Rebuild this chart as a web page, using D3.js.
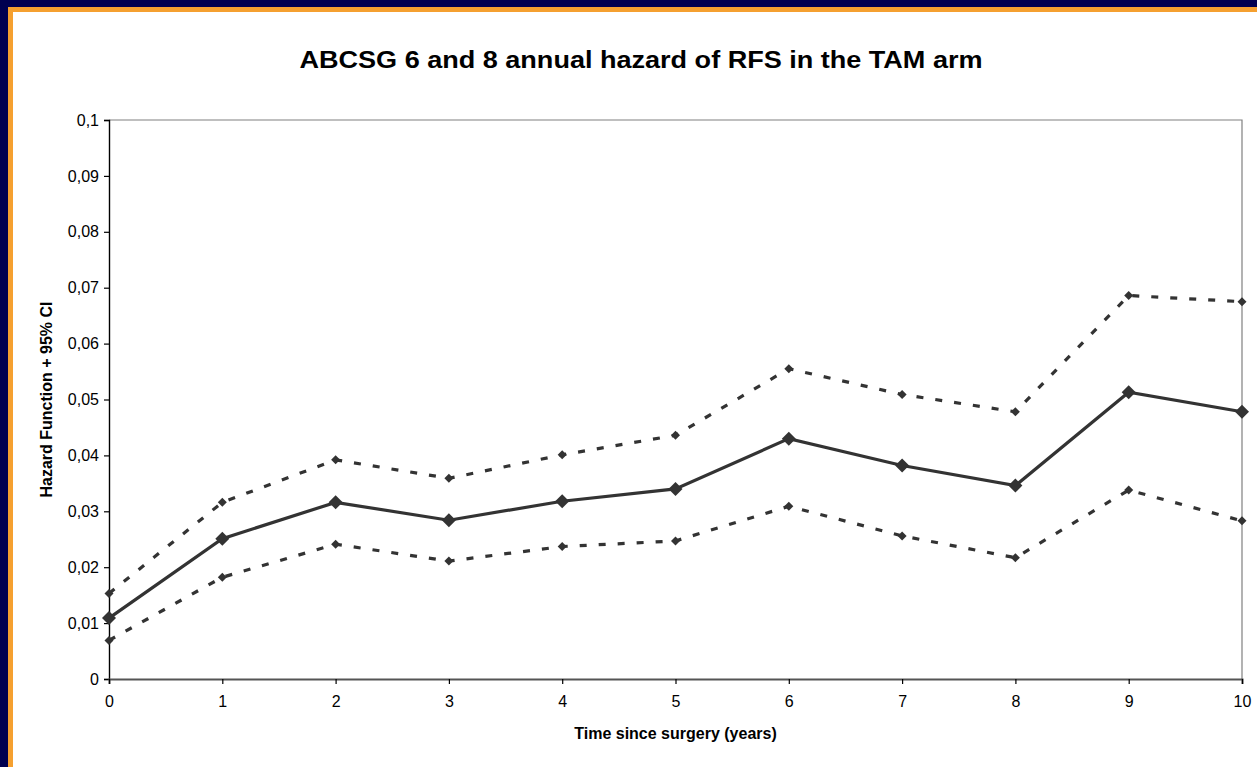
<!DOCTYPE html>
<html>
<head>
<meta charset="utf-8">
<script src="https://cdn.jsdelivr.net/npm/d3@7"></script>
<style>
  html, body { margin: 0; padding: 0; background: #fff; overflow: hidden; }
  text { font-family: "Liberation Sans", Arial, sans-serif; }
</style>
</head>
<body>
<div id="chart"></div>
<script>
// Values
const years = [0, 1, 2, 3, 4, 5, 6, 7, 8, 9, 10];
const hazard = [0.0109, 0.0251, 0.0316, 0.0284, 0.0318, 0.0340, 0.0430, 0.0382, 0.0346, 0.0513, 0.0478];
const upperCI = [0.0153, 0.0316, 0.0392, 0.0359, 0.0401, 0.0436, 0.0555, 0.0509, 0.0478, 0.0686, 0.0675];
const lowerCI = [0.0069, 0.0182, 0.0241, 0.0211, 0.0237, 0.0247, 0.0309, 0.0256, 0.0217, 0.0338, 0.0283];
const yTicks = [0, 0.01, 0.02, 0.03, 0.04, 0.05, 0.06, 0.07, 0.08, 0.09, 0.1];

const width = 1257;
const height = 767;
const margin = { top: 120, right: 15, bottom: 88, left: 109 };

const svg = d3.select('#chart')
    .append('svg')
    .attr('width', width)
    .attr('height', height)
    .style('display', 'block');

// slide frame: navy outside, orange strip, white inside (top and left only)
svg.append('rect').attr('width', width).attr('height', height).attr('fill', '#000050');
svg.append('rect').attr('x', 8).attr('y', 7).attr('width', width - 8).attr('height', height - 7).attr('fill', '#f5a030');
svg.append('rect').attr('x', 13).attr('y', 12).attr('width', width - 13).attr('height', height - 12).attr('fill', '#fff');

const x = d3.scaleLinear()
    .domain([0, 10])
    .range([margin.left, width - margin.right]);

const y = d3.scaleLinear()
    .domain([0, 0.1])
    .range([height - margin.bottom, margin.top]);

// plot area frame (top and right edges are gray)
svg.append('path')
    .attr('d', `M${x(0)},${y(0.1)}H${x(10)}V${y(0)}`)
    .attr('fill', 'none')
    .attr('stroke', '#808080')
    .attr('stroke-width', 1.2);

const comma = (d) => d === 0 ? '0' : String(+d.toFixed(2)).replace('.', ',');

// y axis
const yAxis = svg.append('g')
    .attr('transform', `translate(${x(0)},0)`)
    .call(d3.axisLeft(y).tickValues(yTicks).tickFormat(comma).tickSize(5).tickPadding(5));
yAxis.select('.domain').attr('stroke', '#000').attr('stroke-width', 1.4);
yAxis.selectAll('.tick line').attr('stroke', '#000').attr('stroke-width', 1.2);
yAxis.selectAll('text').attr('font-size', 16).attr('fill', '#000')
    .attr('font-family', '"Liberation Sans", Arial, sans-serif');

// x axis
const xAxis = svg.append('g')
    .attr('transform', `translate(0,${y(0)})`)
    .call(d3.axisBottom(x).tickValues(years).tickFormat(d3.format('d')).tickSize(5).tickPadding(12));
xAxis.select('.domain').attr('stroke', '#555').attr('stroke-width', 2);
xAxis.selectAll('.tick line').attr('stroke', '#000').attr('stroke-width', 1.2);
xAxis.selectAll('text').attr('font-size', 16).attr('fill', '#000')
    .attr('font-family', '"Liberation Sans", Arial, sans-serif');

// lines
const line = d3.line()
    .x((d, i) => x(years[i]))
    .y((d) => y(d));

const series = [
    { values: upperCI, dash: '7,12', marker: 4.5, width: 3.2 },
    { values: lowerCI, dash: '7,12', marker: 4.5, width: 3.2 },
    { values: hazard, dash: null, marker: 7, width: 3.2 }
];

series.forEach((s) => {
    svg.append('path')
        .datum(s.values)
        .attr('d', line)
        .attr('fill', 'none')
        .attr('stroke', '#333')
        .attr('stroke-width', s.width)
        .attr('stroke-dasharray', s.dash);

    svg.append('g')
        .selectAll('path')
        .data(s.values)
        .join('path')
        .attr('transform', (d, i) => `translate(${x(years[i])},${y(d)})`)
        .attr('d', `M0,${-s.marker}L${s.marker},0L0,${s.marker}L${-s.marker},0Z`)
        .attr('fill', '#333');
});

// titles
svg.append('text')
    .attr('x', 641)
    .attr('y', 68)
    .attr('text-anchor', 'middle')
    .attr('font-size', 24)
    .attr('font-weight', 'bold')
    .attr('textLength', 683)
    .attr('lengthAdjust', 'spacingAndGlyphs')
    .text('ABCSG 6 and 8 annual hazard of RFS in the TAM arm');

svg.append('text')
    .attr('x', (x(0) + x(10)) / 2)
    .attr('y', 739)
    .attr('text-anchor', 'middle')
    .attr('font-size', 16)
    .attr('font-weight', 'bold')
    .text('Time since surgery (years)');

svg.append('text')
    .attr('transform', `translate(52,${(y(0) + y(0.1)) / 2}) rotate(-90)`)
    .attr('text-anchor', 'middle')
    .attr('font-size', 16)
    .attr('font-weight', 'bold')
    .text('Hazard Function + 95% CI');
</script>
</body>
</html>
